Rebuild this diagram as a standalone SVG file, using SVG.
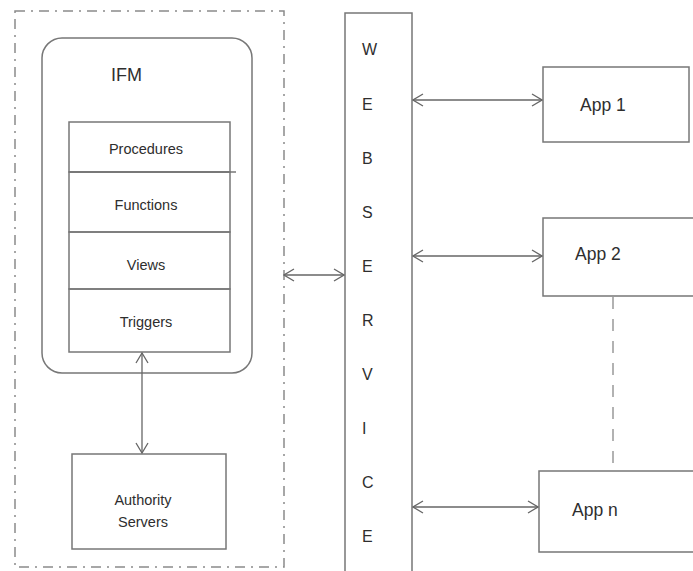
<svg xmlns="http://www.w3.org/2000/svg" width="693" height="571" viewBox="0 0 693 571">
<defs>
<style>
.box{fill:none;stroke:#777;stroke-width:1.5}
.outer{fill:none;stroke:#8a8a8a;stroke-width:1.5;stroke-dasharray:10 6 2 6}
.dash{fill:none;stroke:#999;stroke-width:1.5;stroke-dasharray:12 10}
.con{fill:none;stroke:#666;stroke-width:1.3;marker-start:url(#ah);marker-end:url(#ah)}
text{font-family:"Liberation Sans",Arial,sans-serif;fill:#2e2e2e}
.lbl{font-size:14.5px;text-anchor:middle}
.app{font-size:17.5px}
.ws{font-size:16px}
</style>
<marker id="ah" viewBox="-11 -7 12 14" markerWidth="12" markerHeight="14" refX="0" refY="0" orient="auto-start-reverse" markerUnits="userSpaceOnUse">
<path d="M-10,-6 L0,0 L-10,6" fill="none" stroke="#666" stroke-width="1.3"/>
</marker>
</defs>
<rect width="693" height="571" fill="#fff"/>
<g id="outer-boundary">
<rect class="outer" x="15" y="11" width="269" height="556"/>
</g>
<g id="ifm">
<rect class="box" x="42" y="38" width="210" height="335" rx="20" ry="20"/>
<text x="111" y="81" style="font-size:18px">IFM</text>
</g>
<g id="procedures">
<rect class="box" x="69" y="122" width="161" height="50"/>
<line class="box" x1="69" y1="172" x2="236" y2="172"/>
<text class="lbl" x="146" y="154">Procedures</text>
</g>
<g id="functions">
<rect class="box" x="69" y="172" width="161" height="60"/>
<text class="lbl" x="146" y="210">Functions</text>
</g>
<g id="views">
<rect class="box" x="69" y="232" width="161" height="57"/>
<text class="lbl" x="146" y="270">Views</text>
</g>
<g id="triggers">
<rect class="box" x="69" y="289" width="161" height="63"/>
<text class="lbl" x="146" y="327">Triggers</text>
</g>
<g id="authority-servers">
<rect class="box" x="72" y="454" width="154" height="95"/>
<text class="lbl" x="143" y="505">Authority</text>
<text class="lbl" x="143" y="527">Servers</text>
</g>
<g id="webservice">
<path class="box" d="M345,575 L345,13 L412,13 L412,575"/>
<text class="ws" x="362" y="55">W</text>
<text class="ws" x="362" y="110">E</text>
<text class="ws" x="362" y="164">B</text>
<text class="ws" x="362" y="218">S</text>
<text class="ws" x="362" y="272">E</text>
<text class="ws" x="362" y="326">R</text>
<text class="ws" x="362" y="380">V</text>
<text class="ws" x="362" y="434">I</text>
<text class="ws" x="362" y="488">C</text>
<text class="ws" x="362" y="542">E</text>
</g>
<g id="app1">
<rect class="box" x="543" y="67" width="146" height="75"/>
<text class="app" x="580" y="111">App 1</text>
</g>
<g id="app2">
<path class="box" d="M700,218 L543,218 L543,296 L700,296"/>
<text class="app" x="575" y="260">App 2</text>
</g>
<g id="appn">
<path class="box" d="M700,471 L539,471 L539,552 L700,552"/>
<text class="app" x="572" y="516">App n</text>
</g>
<g id="connectors">
<line class="con" x1="142" y1="353" x2="142" y2="453"/>
<line class="con" x1="284" y1="275" x2="344" y2="275"/>
<line class="con" x1="413" y1="100" x2="542" y2="100"/>
<line class="con" x1="413" y1="256" x2="542" y2="256"/>
<line class="con" x1="413" y1="507" x2="538" y2="507"/>
<line class="dash" x1="613" y1="297" x2="613" y2="470"/>
</g>
</svg>
